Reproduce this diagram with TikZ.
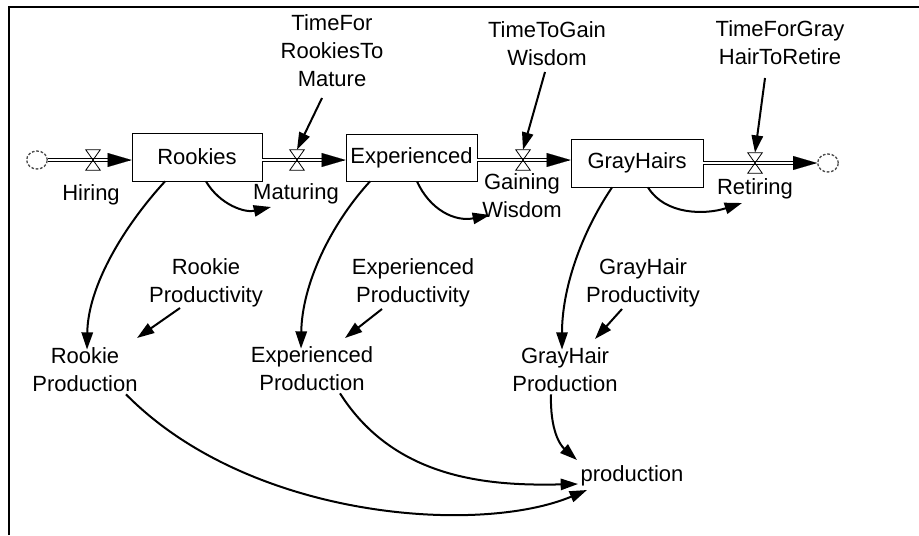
\documentclass[tikz,border=0pt]{standalone}
\usepackage{fontspec}
\setmainfont{Liberation Sans}
\usetikzlibrary{arrows.meta,calc,shapes.geometric}
\begin{document}
\begin{tikzpicture}[x=0.75pt,y=-0.75pt,
  font=\fontsize{16.5}{21}\selectfont,
  stock/.style={draw,line width=0.6pt,minimum width=97.5pt,minimum height=36pt,inner sep=0pt},
  txt/.style={align=center,inner sep=0pt},
  valve/.style={minimum width=10.5pt,minimum height=15pt,inner sep=0pt},
  valvedraw/.style={line width=0.6pt},
  cloudy/.style={ellipse,draw=black!70,dash pattern=on 2pt off 1.3pt,line width=1pt,minimum width=15.5pt,minimum height=13.5pt,inner sep=0pt},
  pipe/.style={draw,line width=0.75pt,double=white,double distance=2.2pt,shorten >=16pt},
  pipetip/.style={-{Triangle[length=18pt,width=10.5pt]},line width=0.1pt},
  info/.style={-{Triangle[length=13pt,width=8.5pt]},line width=1.5pt},
]
\useasboundingbox (0,0) rectangle (919,535);
\draw[line width=1.3pt] (9,535) -- (9,7) -- (919,7);

% stocks
\node[stock] (rk) at (197,157) {Rookies};
\node[stock,minimum width=98.25pt,minimum height=35.25pt] (ex) at (411.5,157.5) {Experienced};
\node[stock,minimum width=99pt] (gh) at (637,163) {GrayHairs};

% clouds and valves
\node[cloudy] (src) at (37,160) {};
\node[cloudy] (snk) at (828,163) {};
\node[valve] (vh) at (93,160) {};
\node[valve] (vm) at (297,160) {};
\node[valve] (vg) at (523,160) {};
\node[valve] (vr) at (755,163) {};

% pipes
\draw[pipe] (src.east) -- (vh -| rk.west);
\draw[pipetip] ($(vh -| rk.west)+(-2,0)$) -- (vh -| rk.west);
\draw[pipe] (rk.east |- vm) -- (vm -| ex.west);
\draw[pipetip] ($(vm -| ex.west)+(-2,0)$) -- (vm -| ex.west);
\draw[pipe] (ex.east |- vg) -- (vg -| gh.west);
\draw[pipetip] ($(vg -| gh.west)+(-2,0)$) -- (vg -| gh.west);
\draw[pipe] (gh.east |- vr) -- (snk.west);
\draw[pipetip] ($(snk.west)+(-2,0)$) -- (snk.west);

\foreach \v in {vh,vm,vg,vr}
  \draw[valvedraw] (\v.north west) -- (\v.north east) -- (\v.south west) -- (\v.south east) -- cycle;

% flow labels
\node[txt] (lhire) at (91,195) {Hiring};
\node[txt] (lmat) at (296,194) {Maturing};
\node[txt] (lgw) at (522,196) {Gaining\\Wisdom};
\node[txt] (lret) at (755,189) {Retiring};

% auxiliaries
\node[txt] (tmat) at (332,51) {TimeFor\\RookiesTo\\Mature};
\node[txt] (tgw) at (547,44) {TimeToGain\\Wisdom};
\node[txt] (tret) at (780,43) {TimeForGray\\HairToRetire};
\node[txt] (rpy) at (206,283) {Rookie\\Productivity};
\node[txt] (epy) at (413,283) {Experienced\\Productivity};
\node[txt] (gpy) at (643,283) {GrayHair\\Productivity};
\node[txt] (rpn) at (85,370) {Rookie\\Production};
\node[txt] (epn) at (312,369) {Experienced\\Production};
\node[txt] (gpn) at (565,370) {GrayHair\\Production};
\node[txt] (prod) at (632,476) {production};

% free ends at flows
\coordinate (mEnd) at (271,207);
\coordinate (gEnd) at (490,215);
\coordinate (rEnd) at (742,203);

% time constants to valves
\draw[info] ($(tmat)+(-10,47)$) -- (vm.north);
\draw[info] ($(tgw)+(-2,28)$) -- (vg.north);
\draw[info] ($(tret)+(-15,35)$) -- (vr.north);

% stocks to production / flows
\draw[info] ($(rk.south)+(-32,0)$) .. controls (125,225) and (88,285) .. ($(rpn.north)+(2,2)$);
\draw[info] ($(rk.south)+(9,0)$) .. controls (220,205) and (245,213) .. (mEnd);
\draw[info] ($(ex.south)+(-41.5,0)$) .. controls (330,225) and (302,285) .. ($(epn.north)+(-11,2)$);
\draw[info] ($(ex.south)+(5.5,0)$) .. controls (430,210) and (455,222) .. (gEnd);
\draw[info] ($(gh.south)+(-25,0)$) .. controls (580,235) and (562,290) .. ($(gpn.north)+(-3,2)$);
\draw[info] ($(gh.south)+(11,0)$) .. controls (665,215) and (705,215) .. (rEnd);

% productivities
\draw[info] ($(rpy)+(-26,25)$) -- ($(rpn)+(52,-32)$);
\draw[info] ($(epy)+(-31,26)$) -- ($(epn)+(33,-31)$);
\draw[info] ($(gpy)+(-21,26)$) -- ($(gpn)+(30,-31)$);

% production
\draw[info] ($(rpn.south)+(41,2)$) .. controls (250,520) and (480,535) .. ($(prod)+(-45,14)$);
\draw[info] ($(epn.south)+(28,2)$) .. controls (395,480) and (490,486) .. ($(prod)+(-54,8)$);
\draw[info] ($(gpn.south)+(-14,2)$) .. controls (550,430) and (560,445) .. ($(prod)+(-55,-16)$);
\end{tikzpicture}
\end{document}
